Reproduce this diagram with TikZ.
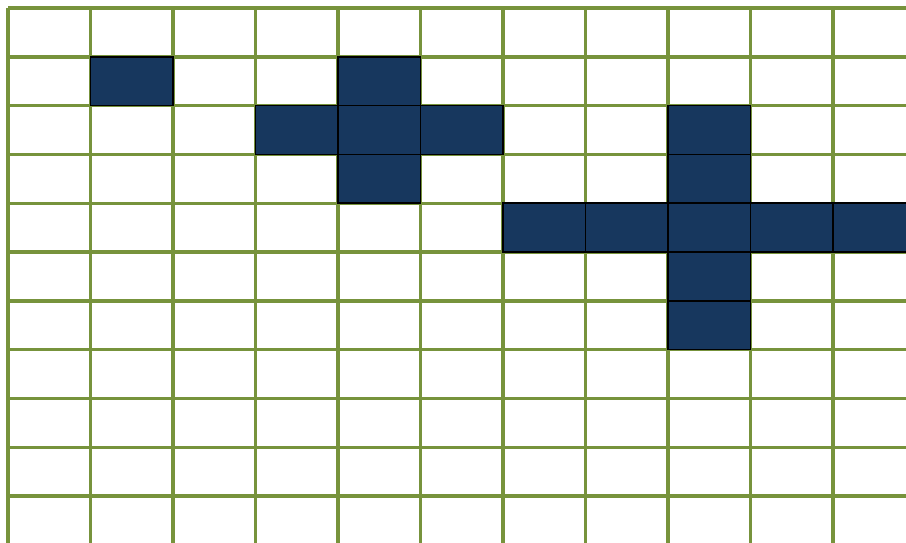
\documentclass[tikz,border=0pt]{standalone}
\usetikzlibrary{positioning}
\definecolor{gridgreen}{HTML}{77933C}
\definecolor{cellblue}{HTML}{17375E}
\begin{document}
\begin{tikzpicture}[x={(82.5pt,0)}, y={(0,-48.8pt)}]
        \clip (-0.097,-0.164) rectangle (10.885,10.943);
        \foreach \i in {0,...,10} {
            \draw[gridgreen, line width=3.4pt] (\i,0) -- (\i,11);
            \draw[gridgreen, line width=3.4pt] (0,\i) -- (11,\i);
        }
        % filled cells
        \foreach \c/\r in {1/1, 4/1, 3/2, 4/2, 5/2, 4/3, 8/2, 8/3,
                           6/4, 7/4, 8/4, 9/4, 10/4, 8/5, 8/6} {
            \draw[fill=cellblue, draw=black, line width=1.7pt] (\c,\r) rectangle (\c+1,\r+1);
        }
    \end{tikzpicture}
\end{document}
